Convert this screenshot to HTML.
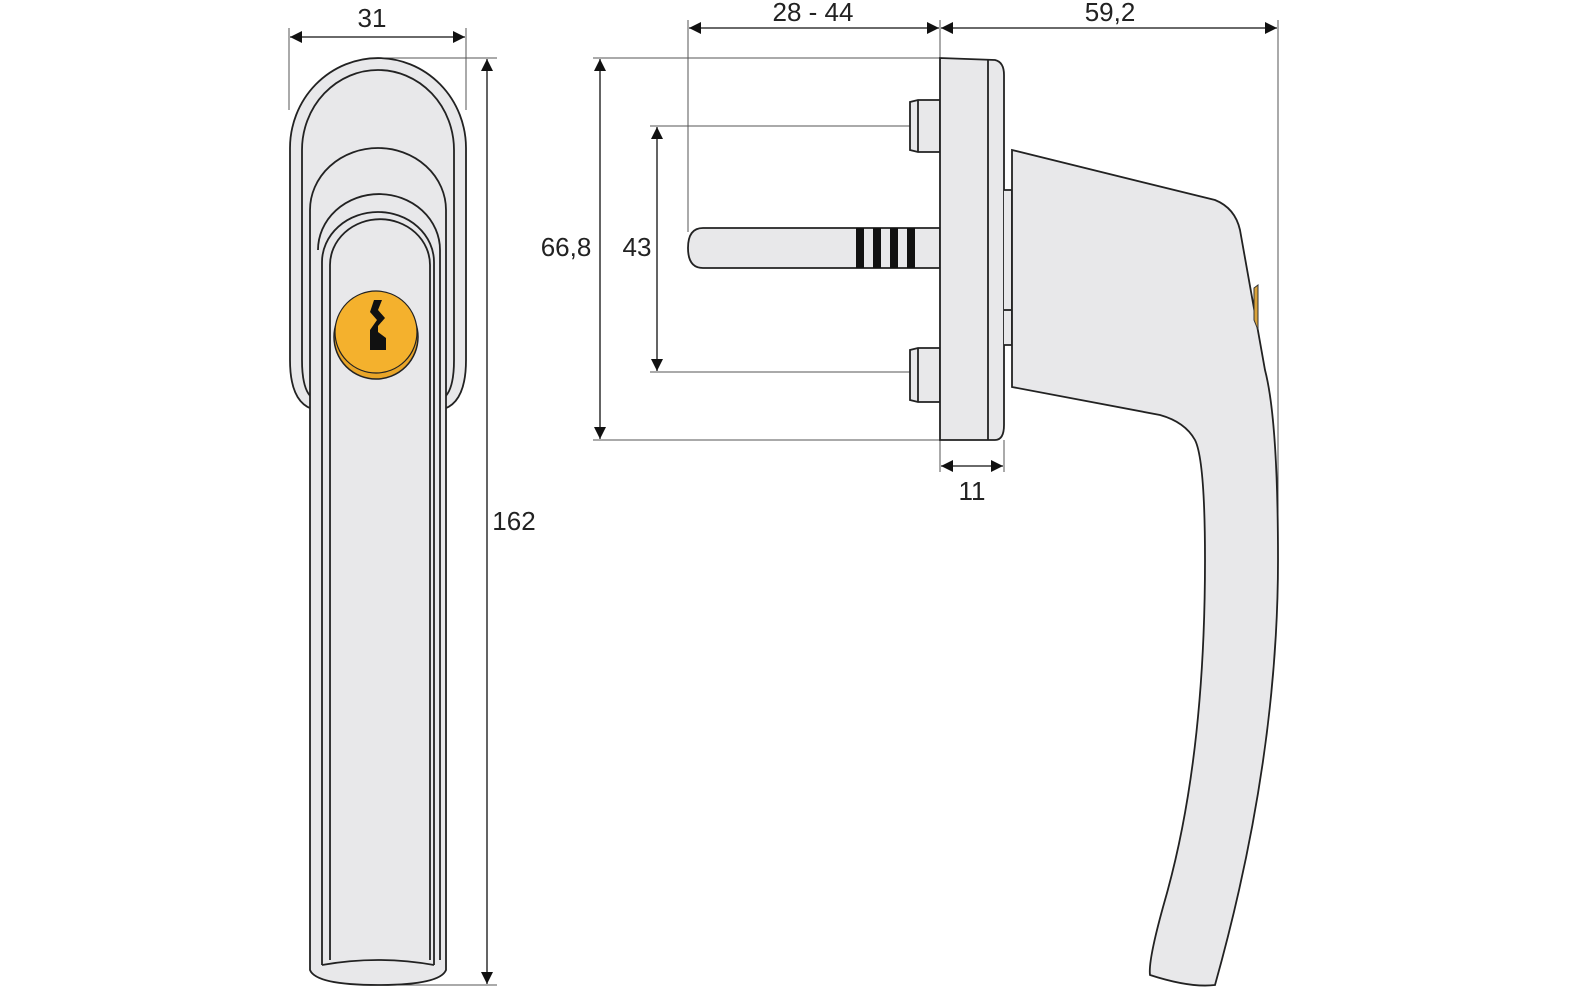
<!DOCTYPE html>
<html><head><meta charset="utf-8"><style>
html,body{margin:0;padding:0;background:#fff;}
svg{display:block;}
text{font-family:"Liberation Sans",sans-serif;font-size:26px;fill:#222;text-anchor:middle;}
</style></head><body>
<svg width="1581" height="995" viewBox="0 0 1581 995" xmlns="http://www.w3.org/2000/svg">
<defs>
<marker id="a" viewBox="0 0 10 10" refX="10" refY="5" markerWidth="18" markerHeight="12" markerUnits="userSpaceOnUse" orient="auto-start-reverse"><path d="M0,0L10,5L0,10z" fill="#111"/></marker>
</defs>
<g stroke="#555" stroke-width="1" fill="none">
<line x1="289" y1="28" x2="289" y2="110"/><line x1="466" y1="28" x2="466" y2="110"/>
<line x1="380" y1="58" x2="497" y2="58"/><line x1="380" y1="985" x2="497" y2="985"/>
<line x1="688" y1="20" x2="688" y2="232"/><line x1="940" y1="20" x2="940" y2="58"/>
<line x1="1278" y1="20" x2="1278" y2="520"/>
<line x1="593" y1="58" x2="940" y2="58"/><line x1="593" y1="440" x2="940" y2="440"/>
<line x1="650" y1="126" x2="912" y2="126"/><line x1="650" y1="372" x2="912" y2="372"/>
<line x1="940" y1="440" x2="940" y2="472"/><line x1="1004" y1="440" x2="1004" y2="472"/>
</g>
<g stroke="#111" stroke-width="1.3">
<line x1="290" y1="37" x2="465" y2="37" marker-start="url(#a)" marker-end="url(#a)"/>
<line x1="487" y1="59" x2="487" y2="984" marker-start="url(#a)" marker-end="url(#a)"/>
<line x1="689" y1="28" x2="939" y2="28" marker-start="url(#a)" marker-end="url(#a)"/>
<line x1="941" y1="28" x2="1277" y2="28" marker-start="url(#a)" marker-end="url(#a)"/>
<line x1="600" y1="59" x2="600" y2="439" marker-start="url(#a)" marker-end="url(#a)"/>
<line x1="657" y1="127" x2="657" y2="371" marker-start="url(#a)" marker-end="url(#a)"/>
<line x1="941" y1="466" x2="1003" y2="466" marker-start="url(#a)" marker-end="url(#a)"/>
</g>
<text x="372" y="27">31</text>
<text x="514" y="530">162</text>
<text x="813" y="21">28 - 44</text>
<text x="1110" y="21">59,2</text>
<text x="566" y="256">66,8</text>
<text x="637" y="256">43</text>
<text x="972" y="500">11</text>

<g stroke="#222" stroke-width="1.8" fill="#e8e8ea">
<path d="M290,148 A88,90 0 0 1 466,148 L466,360 Q466,405 440,410 L316,410 Q290,405 290,360 Z"/>
<path d="M302,150 A76,80 0 0 1 454,150 L454,360 Q454,395 440,400 L316,400 Q302,395 302,360 Z"/>
<path d="M310,210 A68,62 0 0 1 446,210 L446,970 Q440,985 378,985 Q316,985 310,970 Z"/>
<path d="M318,250 A60,55 0 0 1 440,250 L440,960" fill="none"/>
<path d="M322,965 L322,262 A56,50 0 0 1 434,262 L434,965" />
<path d="M330,265 A48,44 0 0 1 430,265 L430,960 M330,265 L330,960" fill="none"/>
<path d="M322,965 Q378,955 434,965" fill="none"/>
</g>
<circle cx="376" cy="337" r="42" fill="#e9a528" stroke="#222" stroke-width="1.5"/>
<circle cx="376" cy="332" r="41" fill="#f4b12d" stroke="#222" stroke-width="1.2"/>
<path d="M374,300 L382,300 L378,310 L385,318 L378,326 L378,332 L386,338 L386,350 L370,350 L370,330 L377,320 L370,312 Z" fill="#111"/>

<g stroke="#222" stroke-width="1.8" fill="#e8e8ea">
<path d="M703,228 L940,228 L940,268 L703,268 Q688,268 688,248 Q688,228 703,228 Z"/>
<path d="M918,100 L940,100 L940,152 L918,152 L910,150 L910,102 Z"/>
<path d="M918,348 L940,348 L940,402 L918,402 L910,400 L910,350 Z"/>
<line x1="918" y1="100" x2="918" y2="152"/><line x1="918" y1="348" x2="918" y2="402"/>
<path d="M940,58 L995,60 Q1004,62 1004,75 L1004,425 Q1004,440 995,440 L940,440 Z"/>
<line x1="988" y1="60" x2="988" y2="440"/>
<path d="M1004,190 L1012,190 L1012,345 L1004,345" />
<line x1="1004" y1="310" x2="1012" y2="310"/>
<path d="M1012,150 L1215,200 Q1235,208 1240,230 L1265,370 Q1278,420 1278,560 Q1278,760 1215,985 Q1190,988 1150,975 Q1148,960 1165,900 Q1205,760 1205,560 Q1205,460 1195,440 Q1185,422 1160,415 L1012,387 Z"/>
</g>
<path d="M1254,288 L1258,285 L1258,330 L1254,320 Z" fill="#d9a23a" stroke="#333" stroke-width="1"/>
<g fill="#111">
<rect x="856" y="228" width="8" height="40"/><rect x="873" y="228" width="8" height="40"/>
<rect x="890" y="228" width="8" height="40"/><rect x="907" y="228" width="8" height="40"/>
</g>
</svg>
</body></html>
